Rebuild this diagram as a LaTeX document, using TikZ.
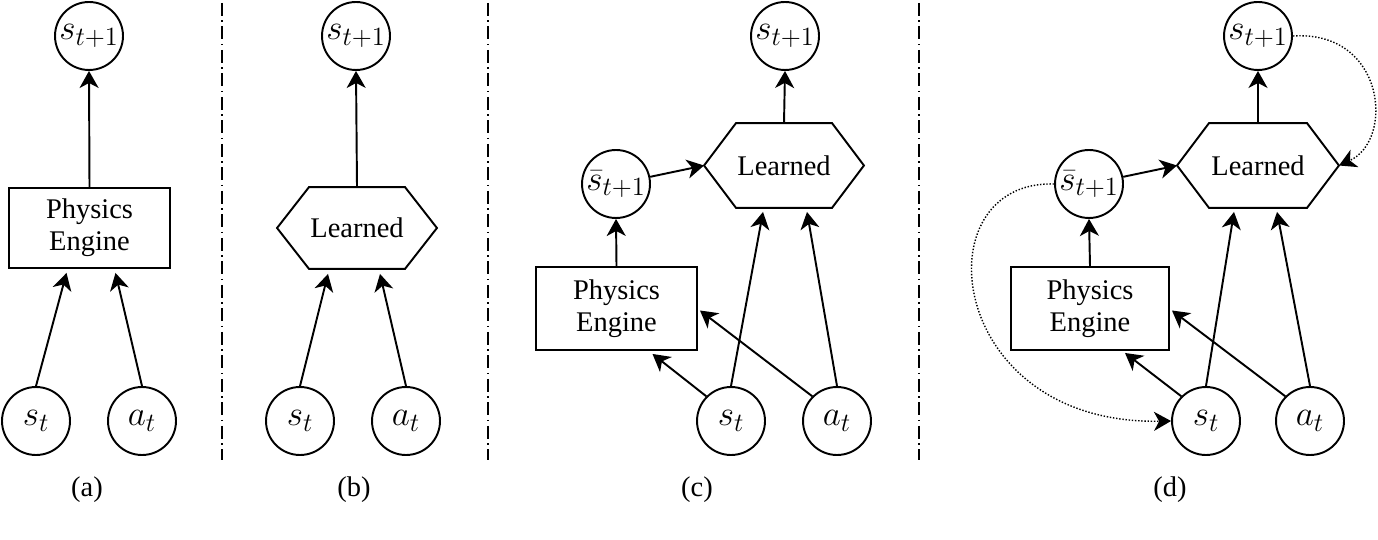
\RequirePackage{fix-cm}
\documentclass[tikz,border=0pt]{standalone}
\usepackage{fontspec}
\setmainfont{Liberation Serif}
\DeclareMathSizes{20}{20}{15}{11}
\usetikzlibrary{arrows.meta,calc}
\newcommand\hexfrom[1]{\draw (#1.west) -- ($(#1.north west)+(32,0)$) -- ($(#1.north east)+(-32,0)$) -- (#1.east) -- ($(#1.south east)+(-32,0)$) -- ($(#1.south west)+(32,0)$) -- cycle;}
\begin{document}
\begin{tikzpicture}[x=0.02cm,y=-0.02cm,
  line width=1.1pt,
  var/.style={circle,draw,minimum size=1.36cm,inner sep=0pt,font=\fontsize{20}{24}\selectfont},
  engine/.style={rectangle,draw,minimum width=3.22cm,minimum height=1.6cm,inner sep=0pt,align=center,font=\fontsize{16.2}{18.4}\selectfont},
  learned/.style={rectangle,minimum width=3.16cm,minimum height=1.6cm,inner sep=0pt,font=\fontsize{16.2}{18.4}\selectfont},
  arr/.style={-{Stealth[length=0.34cm,width=0.38cm,inset=0.1cm]}},
  fb/.style={arr,line width=0.8pt,densely dotted},
  divider/.style={line width=0.6pt,dash pattern=on 0.26cm off 0.09cm on 0.03cm off 0.09cm},
  panellabel/.style={font=\fontsize{16.2}{18}\selectfont}
]
\useasboundingbox (0,0) rectangle (1378,540);

% dividers
\draw[divider] (222,3) -- (222,460);
\draw[divider] (488,3) -- (488,460);
\draw[divider] (919,3) -- (919,460);

% panel (a)
\node[var] (a1) at (89,36) {$s_{t+1}$};
\node[engine] (ape) at (89.5,228) {Physics\\Engine};
\node[var] (ast) at (36,421) {$s_t$};
\node[var] (aat) at (142,421) {$a_t$};
\draw[arr] (ape.north) -- (a1.south);
\draw[arr] (ast.north) -- ($(ape.south)+(-23,4)$);
\draw[arr] (aat.north) -- ($(ape.south)+(26,4)$);
\node[panellabel] (la) at (87,490) {(a)};

% panel (b)
\node[var] (b1) at (356,36) {$s_{t+1}$};
\node[learned] (bh) at (357,228) {Learned};
\hexfrom{bh}
\node[var] (bst) at (300,421) {$s_t$};
\node[var] (bat) at (406,421) {$a_t$};
\draw[arr] (bh.north) -- (b1.south);
\draw[arr] (bst.north) -- ($(bh.south)+(-29,5)$);
\draw[arr] (bat.north) -- ($(bh.south)+(23,5)$);
\node[panellabel] (lb) at (354,490) {(b)};

% panel (c)
\node[var] (c1) at (785,36) {$s_{t+1}$};
\node[learned,minimum height=1.66cm] (ch) at (784,165.5) {Learned};
\hexfrom{ch}
\node[var] (cbar) at (616,184) {$\bar{s}_{t+1}$};
\node[engine,minimum height=1.66cm] (cpe) at (616.5,308.5) {Physics\\Engine};
\node[var] (cst) at (731,421) {$s_t$};
\node[var] (cat) at (837,421) {$a_t$};
\draw[arr] (cpe.north) -- (cbar.south);
\draw[arr] (cbar) -- (ch.west);
\draw[arr] (ch.north) -- (c1.south);
\draw[arr] (cst.north) -- ($(ch.south)+(-21,4)$);
\draw[arr] (cat.north) -- ($(ch.south)+(23,4)$);
\draw[arr] (cst.135) -- ($(cpe.south)+(36,3)$);
\draw[arr] (cat.135) -- ($(cpe.east)+(2,2)$);
\node[panellabel] (lc) at (697,490) {(c)};

% panel (d)
\node[var] (d1) at (1258,36) {$s_{t+1}$};
\node[learned,minimum height=1.66cm,minimum width=3.2cm] (dh) at (1258,165.5) {Learned};
\hexfrom{dh}
\node[var] (dbar) at (1089,184) {$\bar{s}_{t+1}$};
\node[engine,minimum height=1.66cm,minimum width=3.16cm] (dpe) at (1090,308.5) {Physics\\Engine};
\node[var] (dst) at (1206,421) {$s_t$};
\node[var] (dat) at (1310,421) {$a_t$};
\draw[arr] (dpe.north) -- (dbar.south);
\draw[arr] (dbar) -- (dh.west);
\draw[arr] (dh.north) -- (d1.south);
\draw[arr] (dst.north) -- ($(dh.south)+(-24,4)$);
\draw[arr] (dat.north) -- ($(dh.south)+(19,4)$);
\draw[arr] (dst.135) -- ($(dpe.south)+(35,2)$);
\draw[arr] (dat.135) -- ($(dpe.east)+(2,2)$);
\draw[fb] (d1.east) .. controls (1385,30) and (1395,140) .. (dh.east);
\draw[fb] (dbar.west) .. controls (920,180) and (945,425) .. (dst.west);
\node[panellabel] (ld) at (1170,490) {(d)};
\end{tikzpicture}
\end{document}
